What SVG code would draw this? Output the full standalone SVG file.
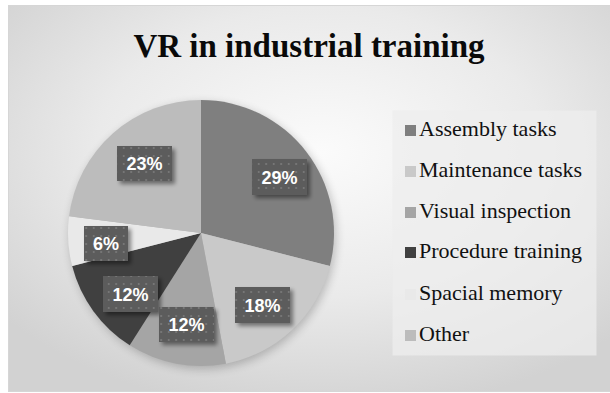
<svg xmlns="http://www.w3.org/2000/svg" width="610" height="393" viewBox="0 0 610 393">
  <defs>
    <radialGradient id="bg" cx="52%" cy="38%" r="68%">
      <stop offset="0" stop-color="#fbfbfb"/>
      <stop offset="0.55" stop-color="#eaeaea"/>
      <stop offset="1" stop-color="#d2d2d2"/>
    </radialGradient>
    <pattern id="dots" width="7.5" height="8" patternUnits="userSpaceOnUse">
      <rect width="7.5" height="8" fill="#5c5c5c"/>
      <circle cx="3.7" cy="4" r="0.95" fill="#7e7e7e"/>
    </pattern>
    <filter id="lblShadow" x="-20%" y="-20%" width="150%" height="160%">
      <feGaussianBlur in="SourceAlpha" stdDeviation="2"/>
      <feOffset dx="3" dy="3" result="b"/>
      <feComponentTransfer><feFuncA type="linear" slope="0.45"/></feComponentTransfer>
      <feMerge><feMergeNode/><feMergeNode in="SourceGraphic"/></feMerge>
    </filter>
    <filter id="pieShadow" x="-20%" y="-20%" width="140%" height="140%">
      <feGaussianBlur stdDeviation="5"/>
    </filter>
  </defs>
  <style>
    .lbl { fill: url(#dots); filter: url(#lblShadow); }
    .lt { font-family: "Liberation Sans", Arial, sans-serif; font-weight: bold; font-size: 18px; fill: #ffffff; text-anchor: middle; }
    .leg { font-family: "Liberation Serif", "Times New Roman", serif; font-size: 22px; fill: #111111; }
    .title { font-family: "Liberation Serif", "Times New Roman", serif; font-weight: bold; font-size: 33px; fill: #0a0a0a; text-anchor: middle; }
    .c1 { fill: #7f7f7f; } .c2 { fill: #c9c9c9; } .c3 { fill: #a5a5a5; }
    .c4 { fill: #404040; } .c5 { fill: #e9e9e9; } .c6 { fill: #bcbcbc; }
  </style>

  <rect x="0" y="0" width="610" height="393" fill="#ffffff"/>
  <rect x="8.5" y="5.5" width="602" height="386" fill="url(#bg)" stroke="#d6d6d6" stroke-width="1"/>

  <text class="title" x="309" y="57">VR in industrial training</text>

  <circle cx="203" cy="236" r="133" fill="#000" opacity="0.22" filter="url(#pieShadow)"/>

  <g id="slice-assembly">
    <path class="c1" d="M201,233 L201,100 A133,133 0 0 1 329.82,266.08 Z"/>
  </g>
  <g id="slice-maintenance">
    <path class="c2" d="M201,233 L329.82,266.08 A133,133 0 0 1 225.92,363.64 Z"/>
  </g>
  <g id="slice-visual">
    <path class="c3" d="M201,233 L225.92,363.64 A133,133 0 0 1 129.73,345.30 Z"/>
  </g>
  <g id="slice-procedure">
    <path class="c4" d="M201,233 L129.73,345.30 A133,133 0 0 1 72.18,266.08 Z"/>
  </g>
  <g id="slice-spacial">
    <path class="c5" d="M201,233 L72.18,266.08 A133,133 0 0 1 69.05,216.33 Z"/>
  </g>
  <g id="slice-other">
    <path class="c6" d="M201,233 L69.05,216.33 A133,133 0 0 1 201,100 Z"/>
  </g>

  <g id="connectors"/>

  <g id="label-other">
    <rect class="lbl" x="117" y="146" width="55" height="35"/>
    <text class="lt" x="144.5" y="170">23%</text>
  </g>
  <g id="label-assembly">
    <rect class="lbl" x="252" y="159" width="55" height="36"/>
    <text class="lt" x="279.5" y="183.5">29%</text>
  </g>
  <g id="label-spacial">
    <rect class="lbl" x="84" y="226" width="44" height="35"/>
    <text class="lt" x="106" y="250">6%</text>
  </g>
  <g id="label-procedure">
    <rect class="lbl" x="103" y="276" width="55" height="36"/>
    <text class="lt" x="130.5" y="300.5">12%</text>
  </g>
  <g id="label-visual">
    <rect class="lbl" x="159" y="307" width="55" height="35"/>
    <text class="lt" x="186.5" y="331">12%</text>
  </g>
  <g id="label-maintenance">
    <rect class="lbl" x="235" y="287" width="55" height="36"/>
    <text class="lt" x="262.5" y="311.5">18%</text>
  </g>

  <g id="legend">
    <rect x="392.5" y="110.5" width="204" height="245" fill="#ededed" opacity="0.75"/>
    <g id="legend-assembly">
      <rect class="c1" x="405" y="125" width="11" height="11"/>
      <text class="leg" x="419" y="136">Assembly tasks</text>
    </g>
    <g id="legend-maintenance">
      <rect class="c2" x="405" y="166" width="11" height="11"/>
      <text class="leg" x="419" y="177">Maintenance tasks</text>
    </g>
    <g id="legend-visual">
      <rect class="c3" x="405" y="207" width="11" height="11"/>
      <text class="leg" x="419" y="218">Visual inspection</text>
    </g>
    <g id="legend-procedure">
      <rect class="c4" x="405" y="247" width="11" height="11"/>
      <text class="leg" x="419" y="258">Procedure training</text>
    </g>
    <g id="legend-spacial">
      <rect class="c5" x="405" y="289" width="11" height="11"/>
      <text class="leg" x="419" y="300">Spacial memory</text>
    </g>
    <g id="legend-other">
      <rect class="c6" x="405" y="330" width="11" height="11"/>
      <text class="leg" x="419" y="341">Other</text>
    </g>
  </g>
</svg>
